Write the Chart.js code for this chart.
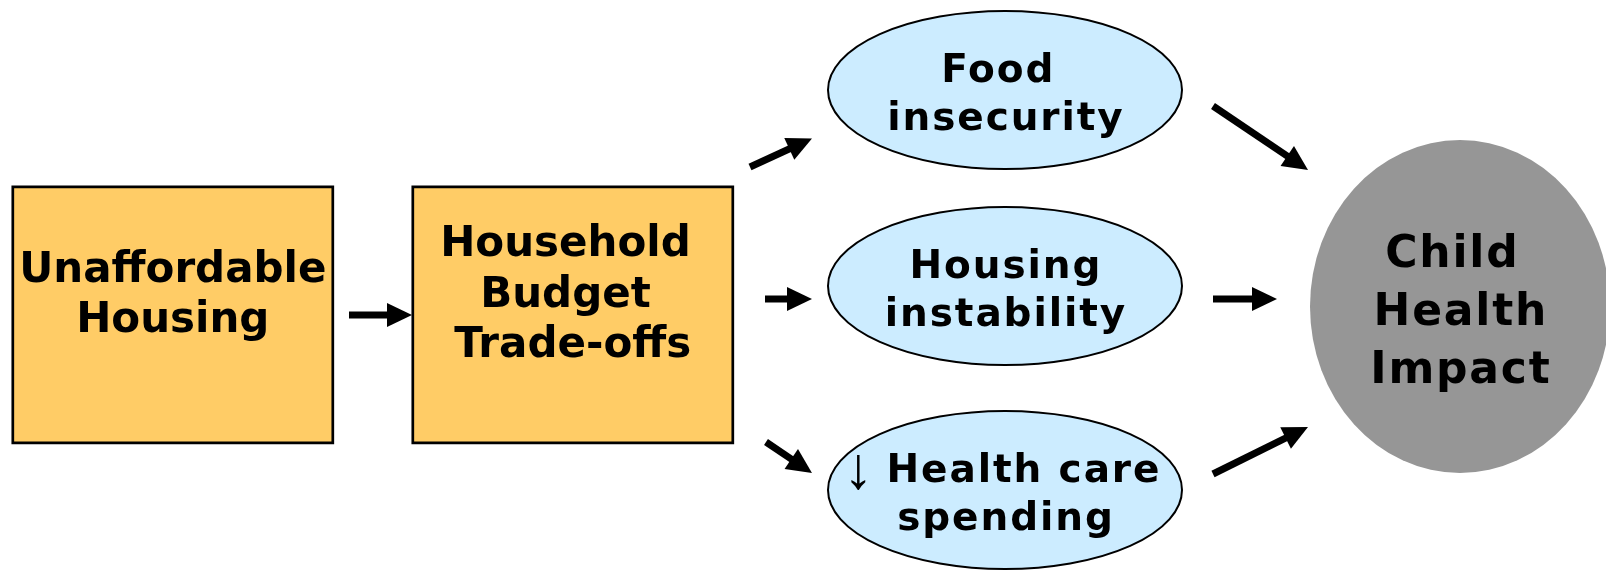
<!DOCTYPE html>
<html>
<head>
<meta charset="utf-8">
<script src="https://cdn.jsdelivr.net/npm/chart.js@4.4.1/dist/chart.umd.min.js"></script>
<style>
html, body { margin: 0; padding: 0; background: #fff; }
#wrap { width: 1606px; height: 570px; }
</style>
</head>
<body>
<div id="wrap"><canvas id="diagram" width="1606" height="570"></canvas></div>
<script>
// diagram nodes (text lines) and their kind
const nodeLabels = [
    ['Unaffordable', 'Housing'],
    ['Household ', 'Budget ', 'Trade-offs'],
    ['Food ', 'insecurity'],
    ['Housing', 'instability'],
    ['\u2193 Health care', 'spending'],
    ['Child ', 'Health', 'Impact']
];
const nodeKind = ['box', 'box', 'oval', 'oval', 'oval', 'outcome'];
// node centres, in the axis units of the page
const nodeX = [172.8, 572.8, 1005, 1005, 1005, 1460];
const nodeY = [314.8, 314.8, 90, 286, 490, 306.5];

// arrows between nodes: tail -> tip
const arrowFromX = [349, 750, 765, 766, 1213, 1213, 1213];
const arrowFromY = [315, 167, 299, 442, 106, 299, 474];
const arrowToX = [412, 812, 812, 812, 1308, 1277, 1308];
const arrowToY = [315, 138.5, 299, 473, 170, 299, 427];

const kindStyle = {
    box: { w: 320, h: 256, fill: '#FFCC66', stroke: '#000', lineWidth: 2.7,
           font: 42, spacing: 0, lineHeight: 50.5, labelDy: -23.3 },
    oval: { w: 354, h: 158, fill: '#CCECFF', stroke: '#000', lineWidth: 2,
            font: 39, spacing: 1.9, lineHeight: 48.3, labelDy: 2 },
    outcome: { w: 300, h: 333, fill: '#969696', stroke: null, lineWidth: 0,
               font: 44, spacing: 1.8, lineHeight: 58, labelDy: 2.5 }
};
const arrowShaft = 7;
const arrowHead = 25;
const arrowHeadWidth = 24;

function drawLabel(ctx, lines, cx, cy, st) {
    const bold = 'bold ' + st.font + 'px "DejaVu Sans"';
    const cap = st.font * 0.729;
    let base = cy - (lines.length - 1) * st.lineHeight / 2 + cap / 2;
    ctx.fillStyle = '#000';
    ctx.textBaseline = 'alphabetic';
    ctx.textAlign = 'left';
    lines.forEach(line => {
        let rest = line, sym = null;
        if (line.startsWith('\u2193')) { sym = '\u2193'; rest = line.slice(2); }
        ctx.letterSpacing = st.spacing + 'px';
        ctx.font = bold;
        const w2 = ctx.measureText(rest).width - st.spacing;
        if (!sym) {
            ctx.fillText(rest, cx - w2 / 2, base);
        } else {
            // thin down arrow, stretched from cap top to just under the baseline
            ctx.letterSpacing = '0px';
            const want = cap + 8;
            ctx.font = st.font + 'px "Liberation Sans"';
            let m = ctx.measureText(sym);
            const fs = st.font * want / (m.actualBoundingBoxAscent + m.actualBoundingBoxDescent);
            ctx.font = fs + 'px "Liberation Sans"';
            m = ctx.measureText(sym);
            const symW = m.actualBoundingBoxLeft + m.actualBoundingBoxRight;
            const gap = 21;
            const x0 = cx - (symW + gap + w2) / 2;
            ctx.fillText(sym, x0 + m.actualBoundingBoxLeft, base - cap + m.actualBoundingBoxAscent);
            ctx.letterSpacing = st.spacing + 'px';
            ctx.font = bold;
            ctx.fillText(rest, x0 + symW + gap, base);
        }
        base += st.lineHeight;
    });
    ctx.letterSpacing = '0px';
}

const diagramPlugin = {
    id: 'diagram',
    afterDatasetsDraw(chart) {
        const ctx = chart.ctx;
        const xs = chart.scales.x, ys = chart.scales.y;
        const px = v => xs.getPixelForValue(v);
        const py = v => ys.getPixelForValue(v);
        ctx.save();

        nodeX.forEach((cx, i) => {
            const st = kindStyle[nodeKind[i]];
            const l = px(cx - st.w / 2), r = px(cx + st.w / 2);
            const t = py(nodeY[i] - st.h / 2), b = py(nodeY[i] + st.h / 2);
            ctx.beginPath();
            if (nodeKind[i] === 'box') {
                ctx.rect(l, t, r - l, b - t);
            } else {
                ctx.ellipse((l + r) / 2, (t + b) / 2, (r - l) / 2, Math.abs(b - t) / 2, 0, 0, Math.PI * 2);
            }
            ctx.fillStyle = st.fill;
            ctx.fill();
            if (st.stroke) {
                ctx.lineWidth = st.lineWidth;
                ctx.strokeStyle = st.stroke;
                ctx.stroke();
            }
            drawLabel(ctx, nodeLabels[i], px(cx), py(nodeY[i] + st.labelDy), st);
        });

        // arrows
        ctx.fillStyle = '#000';
        ctx.strokeStyle = '#000';
        arrowFromX.forEach((fx, i) => {
            const x1 = px(fx), y1 = py(arrowFromY[i]);
            const x2 = px(arrowToX[i]), y2 = py(arrowToY[i]);
            const len = Math.hypot(x2 - x1, y2 - y1);
            const ux = (x2 - x1) / len, uy = (y2 - y1) / len;
            const bx = x2 - ux * arrowHead, by = y2 - uy * arrowHead;
            ctx.beginPath();
            ctx.lineWidth = arrowShaft;
            ctx.lineCap = 'butt';
            ctx.moveTo(x1, y1);
            ctx.lineTo(bx + ux, by + uy);
            ctx.stroke();
            ctx.beginPath();
            ctx.moveTo(x2, y2);
            ctx.lineTo(bx - uy * arrowHeadWidth / 2, by + ux * arrowHeadWidth / 2);
            ctx.lineTo(bx + uy * arrowHeadWidth / 2, by - ux * arrowHeadWidth / 2);
            ctx.closePath();
            ctx.fill();
        });
        ctx.restore();
    }
};

const ctx = document.getElementById('diagram');
const chart = new Chart(ctx, {
    type: 'scatter',
    data: {
        datasets: [{
            label: 'nodes',
            data: nodeX.map((v, i) => ({ x: v, y: nodeY[i] })),
            pointRadius: 0,
            pointHoverRadius: 0
        }]
    },
    options: {
        responsive: false,
        animation: false,
        layout: { padding: 0 },
        plugins: { legend: { display: false }, tooltip: { enabled: false } },
        scales: {
            x: { type: 'linear', min: 0, max: 1606, display: false },
            y: { type: 'linear', min: 0, max: 570, reverse: true, display: false }
        }
    },
    plugins: [diagramPlugin]
});
</script>
</body>
</html>
